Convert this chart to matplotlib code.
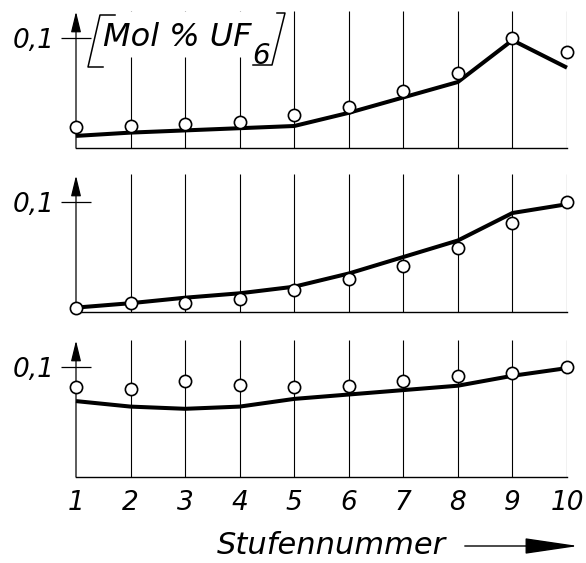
import matplotlib
matplotlib.use("Agg")
import matplotlib.pyplot as plt
from matplotlib.lines import Line2D
from matplotlib.patches import FancyArrowPatch

# Stufennummer 1..10
stages = [1, 2, 3, 4, 5, 6, 7, 8, 9, 10]
tick_labels = ["1", "2", "3", "4", "5", "6", "7", "8", "9", "10"]

# Mol % UF6, oben / mitte / unten; Kreise = Messung, Linie = Rechnung
meas_top = [0.019, 0.020, 0.022, 0.024, 0.030, 0.037, 0.052, 0.068, 0.100, 0.087]
calc_top = [0.011, 0.014, 0.016, 0.018, 0.020, 0.032, 0.046, 0.060, 0.098, 0.073]

meas_mid = [0.004, 0.008, 0.008, 0.012, 0.020, 0.030, 0.042, 0.058, 0.081, 0.100]
calc_mid = [0.004, 0.008, 0.013, 0.017, 0.023, 0.035, 0.050, 0.065, 0.090, 0.098]

meas_bot = [0.082, 0.080, 0.087, 0.084, 0.082, 0.083, 0.087, 0.092, 0.095, 0.100]
calc_bot = [0.069, 0.064, 0.062, 0.064, 0.071, 0.075, 0.079, 0.083, 0.092, 0.099]

W, H = 586, 563
fig = plt.figure(figsize=(W / 100, H / 100), dpi=100)
FONT = dict(family="DejaVu Sans", style="italic")


def px(x, y):
    return x / W, 1 - y / H


x_left, x_right = 76, 567
ytop = 0.13
panel_h = ytop * 1100
panels = [(148, meas_top, calc_top), (312, meas_mid, calc_mid), (477, meas_bot, calc_bot)]
axes = []
for base, meas, calc in panels:
    ax = fig.add_axes([x_left / W, (H - base) / H, (x_right - x_left) / W, panel_h / H])
    ax.set_xlim(1, 10)
    ax.set_ylim(0, ytop)
    for s in ax.spines.values():
        s.set_visible(False)
    ax.patch.set_alpha(0)
    ax.plot([1, 10], [0, 0], color="k", lw=1.0, clip_on=False)
    ax.vlines(stages[1:], 0, 0.125, color="k", lw=0.8)
    ax.annotate("", xy=(1, 0.124), xytext=(1, 0),
                arrowprops=dict(arrowstyle="-|>,head_length=0.9,head_width=0.22",
                                lw=0.9, color="k", mutation_scale=14, shrinkA=0, shrinkB=0))
    ax.plot(stages, calc, color="k", lw=2.9, solid_capstyle="butt", clip_on=False, zorder=3)
    ax.plot(stages, meas, "o", ms=8.8, mfc="white", mec="k", mew=1.2, clip_on=False, zorder=4)
    ax.set_yticks([0.1])
    ax.set_yticklabels(["0,1"], fontsize=19, **FONT)
    ax.tick_params(axis="y", direction="inout", length=21, width=0.9, pad=5)
    ax.set_xticks([])
    axes.append(ax)

ax1 = axes[0]
# in panel 1, lines 2..4 stop below the label box
ax1.vlines([2, 3, 4], 0.083, 0.125, color="white", lw=2.5, zorder=2)

ax3 = axes[2]
ax3.set_xticks(stages)
ax3.set_xticklabels(tick_labels, fontsize=19, **FONT)
ax3.tick_params(axis="x", length=0, pad=9)

# label box [Mol % UF6]
box = [
    [(115, 15), (100, 15), (88, 67), (103, 67)],
    [(277, 13), (285, 13), (272, 65), (253, 65)],
]
for pts in box:
    xs, ys = zip(*[px(*p) for p in pts])
    fig.add_artist(Line2D(xs, ys, color="k", lw=1.1))
fig.text(*px(103, 37), "Mol % UF", fontsize=23, ha="left", va="center", **FONT)
fig.text(*px(252, 56), "6", fontsize=20, ha="left", va="center", **FONT)

fig.text(*px(446, 545), "Stufennummer", fontsize=22, ha="right", va="center", **FONT)
fig.add_artist(FancyArrowPatch(
    px(462, 546), px(581, 546), transform=fig.transFigure,
    arrowstyle="-|>,head_length=1.7,head_width=0.25", mutation_scale=20,
    lw=1.0, color="k"))

fig.savefig("out.png", dpi=100)
